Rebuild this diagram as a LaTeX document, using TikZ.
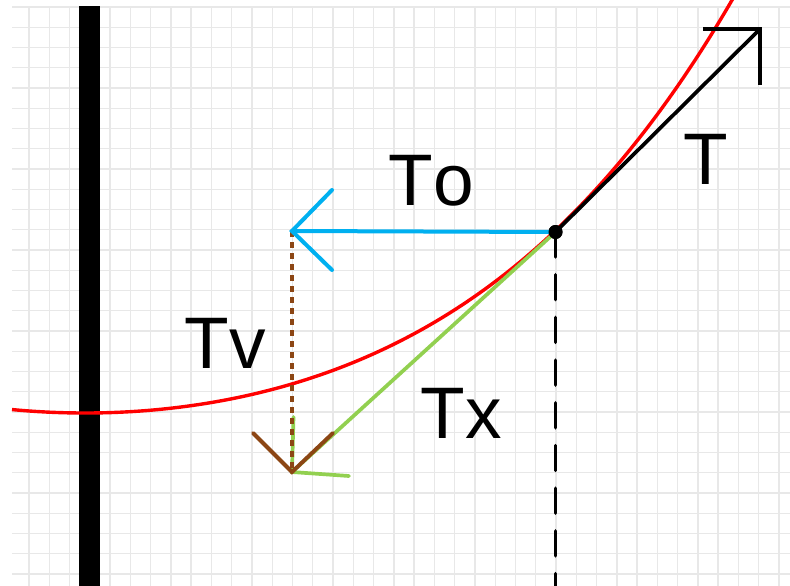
\documentclass[tikz,border=0pt]{standalone}
\usepackage{fontspec}
\setmainfont{Liberation Sans}[Kerning=Off]
\definecolor{curvered}{RGB}{255,0,0}
\definecolor{toblue}{RGB}{0,176,240}
\definecolor{txgreen}{RGB}{146,208,80}
\definecolor{tvbrown}{RGB}{140,70,20}
\definecolor{gridgray}{RGB}{232,232,232}
\begin{document}
\begin{tikzpicture}[x=1pt,y=-1pt,
  declare function={uu(\t)=((\t-85)/100)*((\t-85)/100);},
  gridline/.style={gridgray,line width=1.4pt},
  vec/.style={line width=3.7pt,line cap=round},
  lbl/.style={font=\fontsize{73}{80}\selectfont,inner sep=0pt,anchor=base west}]
\useasboundingbox (0,0) rectangle (790,586);
\fill[white] (0,0) rectangle (790,586);
% grid
\foreach \k in {0,...,37} \draw[gridline] ({29+20.27*\k},7) -- ({29+20.27*\k},586);
\foreach \k in {0,...,28} \draw[gridline] (12,{7+20.25*\k}) -- (790,{7+20.25*\k});
% wall
\fill[black] (79,6) rectangle (100,586);
% curve
\begin{scope}
\clip (0,0) rectangle (790,586);
\draw[curvered,line width=3.4pt] plot[domain=12:745,samples=160,smooth]
  (\x,{413-6.43*uu(\x)-0.082*uu(\x)*uu(\x)});
\end{scope}
% points
\node[circle,fill=black,inner sep=0pt,minimum size=14pt] (P) at (555.5,232) {};
\coordinate (Bot) at (555.5,586);
\coordinate (Ttip) at (760,29);
\coordinate (Tb1) at (703,29);
\coordinate (Tb2) at (760,85);
\coordinate (Otip) at (292,231);
\coordinate (Ob1) at (332,190);
\coordinate (Ob2) at (332,270);
\coordinate (Vtip) at (292,472);
\coordinate (Vb1) at (253,433);
\coordinate (Vb2) at (333,433);
\coordinate (Xb1) at (293.5,417);
\coordinate (Xb2) at (349,476);
% Tx (green)
\draw[vec,txgreen] (P.center) -- (Vtip);
\draw[vec,txgreen] (Xb1) -- (Vtip) -- (Xb2);
% Tv (brown)
\draw[tvbrown,line width=3.2pt,dash pattern=on 6pt off 5pt] (Otip) -- (Vtip);
\draw[vec,tvbrown,line width=3.9pt] (Vb1) -- (Vtip) -- (Vb2);
% To (blue)
\draw[vec,toblue,line width=4pt] (P.center) -- (Otip);
\draw[vec,toblue,line width=4pt] (Ob1) -- (Otip) -- (Ob2);
% T (black)
\draw[vec,black] (P.center) -- (Ttip);
\draw[vec,black,line cap=butt] (Tb1) -- (Ttip) -- (Tb2);
% dashed vertical
\draw[black,line width=3.5pt,line cap=round,dash pattern=on 25pt off 17.7pt] (P.center) -- (Bot);
\node[circle,fill=black,inner sep=0pt,minimum size=14pt] at (P) {};
% labels
\node[lbl] (lTo) at (388.5,205) {To};
\node[lbl] (lT) at (683.5,184) {T};
\node[lbl] (lTv) at (184.5,368) {Tv};
\node[lbl] (lTx) at (420.5,438) {Tx};
\end{tikzpicture}
\end{document}
